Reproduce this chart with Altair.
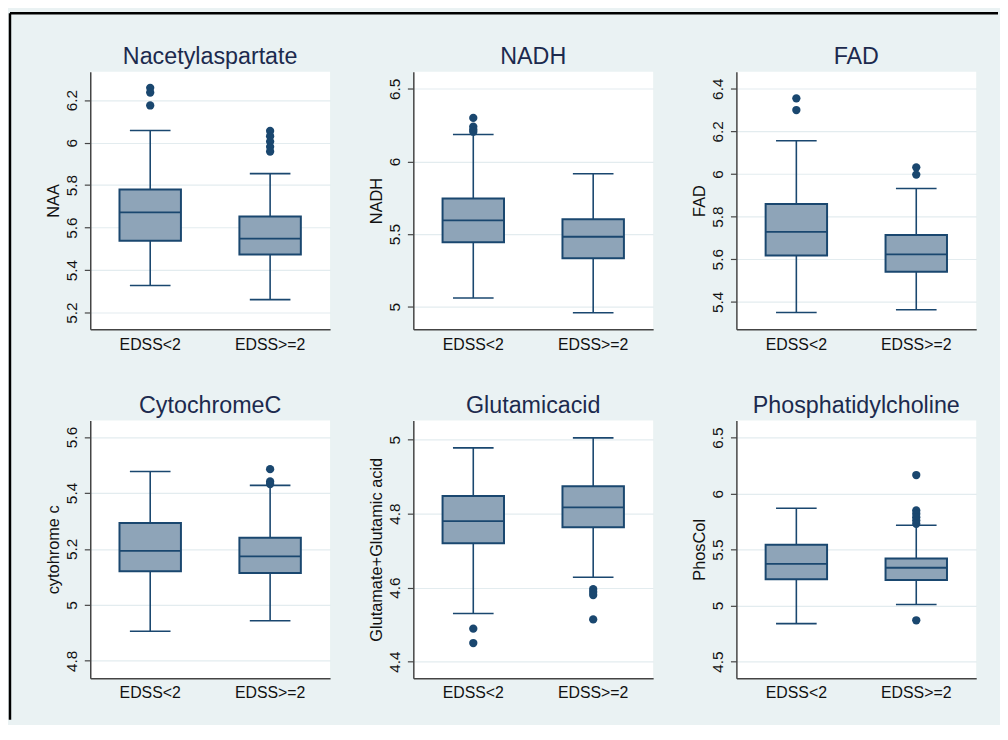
import altair as alt
import pandas as pd

groups = ["EDSS<2", "EDSS>=2"]

titles = ["Nacetylaspartate", "NADH", "FAD", "CytochromeC", "Glutamicacid", "Phosphatidylcholine"]
ytitles = ["NAA", "NADH", "FAD", "cytohrome c", "Glutamate+Glutamic acid", "PhosCol"]

# per panel: [EDSS<2, EDSS>=2]
lower_whisker = [[5.327, 5.261], [5.061, 4.959], [5.350, 5.363], [4.906, 4.943], [4.530, 4.628], [4.839, 5.010]]
q1 = [[5.538, 5.473], [5.445, 5.334], [5.617, 5.541], [5.120, 5.114], [4.720, 4.763], [5.235, 5.229]]
median = [[5.672, 5.548], [5.595, 5.482], [5.728, 5.623], [5.193, 5.173], [4.780, 4.817], [5.373, 5.338]]
q3 = [[5.779, 5.652], [5.745, 5.602], [5.859, 5.714], [5.293, 5.240], [4.848, 4.874], [5.544, 5.420]]
upper_whisker = [[6.057, 5.854], [6.186, 5.916], [6.156, 5.932], [5.477, 5.427], [4.978, 5.005], [5.869, 5.718]]

outliers_lt2 = [[6.258, 6.236, 6.175], [6.300, 6.240, 6.220, 6.205], [6.355, 6.300], [], [4.489, 4.450], []]
outliers_ge2 = [[6.055, 6.030, 6.005, 5.980, 5.958], [], [6.031, 5.997], [5.485, 5.441, 5.432],
                [4.596, 4.588, 4.580, 4.514], [6.166, 5.850, 5.820, 5.790, 5.760, 5.730, 4.869]]

y_domains = [[5.121, 6.334], [4.845, 6.618], [5.271, 6.480], [4.738, 5.659], [4.355, 5.052], [4.352, 6.653]]
y_ticks = [[5.2, 5.4, 5.6, 5.8, 6.0, 6.2], [5.0, 5.5, 6.0, 6.5], [5.4, 5.6, 5.8, 6.0, 6.2, 6.4],
           [4.8, 5.0, 5.2, 5.4, 5.6], [4.4, 4.6, 4.8, 5.0], [4.5, 5.0, 5.5, 6.0, 6.5]]

FONT = "Liberation Sans"
NAVY = "#1A476F"
BOXFILL = "#8EA4B8"
TITLE_COLOR = "#1C2A4E"
BG = "#EAF2F3"
W, H = 242, 260


def panel(i):
    box_df = pd.DataFrame({
        "group": groups,
        "lo": lower_whisker[i],
        "q1": q1[i],
        "med": median[i],
        "q3": q3[i],
        "hi": upper_whisker[i],
    })
    og = [groups[0]] * len(outliers_lt2[i]) + [groups[1]] * len(outliers_ge2[i])
    ov = list(outliers_lt2[i]) + list(outliers_ge2[i])
    out_df = pd.DataFrame({"group": og, "value": ov})

    xenc = alt.X("group:N", sort=groups,
                 scale=alt.Scale(domain=groups, paddingInner=0, paddingOuter=0),
                 axis=alt.Axis(title=None, labelAngle=0, ticks=False, grid=False,
                               labelFontSize=16, labelPadding=7, labelBaseline="top"))
    yscale = alt.Scale(domain=y_domains[i], nice=False, zero=False)
    yaxis = alt.Axis(title=ytitles[i], values=y_ticks[i], format="~g", grid=True,
                     labelAngle=270, labelAlign="center", labelBaseline="alphabetic",
                     labelFontSize=15.5, labelPadding=8, tickSize=6,
                     titleFontSize=16.5, titlePadding=3)

    base = alt.Chart(box_df).encode(x=xenc)
    whisk = base.mark_rule(color=NAVY, strokeWidth=1.6).encode(
        y=alt.Y("lo:Q", scale=yscale, axis=yaxis), y2="hi:Q")
    box = base.mark_bar(width=62, fill=BOXFILL, stroke=NAVY, strokeWidth=2).encode(
        y=alt.Y("q1:Q", scale=yscale, axis=yaxis), y2="q3:Q")
    med = base.mark_tick(size=62, thickness=1.8, color=NAVY, opacity=1).encode(
        y=alt.Y("med:Q", scale=yscale, axis=yaxis))
    cap_lo = base.mark_tick(size=41, thickness=1.6, color=NAVY, opacity=1).encode(
        y=alt.Y("lo:Q", scale=yscale, axis=yaxis))
    cap_hi = base.mark_tick(size=41, thickness=1.6, color=NAVY, opacity=1).encode(
        y=alt.Y("hi:Q", scale=yscale, axis=yaxis))
    layers = [whisk, box, med, cap_lo, cap_hi]
    if len(out_df):
        pts = alt.Chart(out_df).mark_circle(size=70, color=NAVY, opacity=1).encode(
            x=xenc, y=alt.Y("value:Q", scale=yscale, axis=yaxis))
        layers.append(pts)
    ttl = alt.Chart(pd.DataFrame({"t": [titles[i]]})).mark_text(
        font=FONT, fontSize=23.5, color=TITLE_COLOR, align="center", baseline="alphabetic"
    ).encode(x=alt.value(W / 2), y=alt.value(-8), text="t:N")
    layers.append(ttl)
    if i == 0:
        one = pd.DataFrame({"k": [0]})
        top_line = alt.Chart(one).mark_rule(color="black", strokeWidth=2.5).encode(
            x=alt.value(-81), x2=alt.value(916), y=alt.value(-59))
        left_line = alt.Chart(one).mark_rule(color="black", strokeWidth=2.5).encode(
            x=alt.value(-81), y=alt.value(-59), y2=alt.value(654))
        layers += [top_line, left_line]
    return alt.layer(*layers).properties(width=W, height=H)


chart = alt.concat(*[panel(i) for i in range(6)], columns=3,
                   spacing={"row": 92, "column": 84}, bounds="flush").properties(
    padding={"left": 0, "top": 0, "right": 0, "bottom": 0}
).configure(background=BG).configure_view(
    stroke=None, fill="white"
).configure_axis(
    domainColor="#444444", domainWidth=1.5, tickColor="#444444", tickWidth=1.2,
    gridColor="#E3ECEF", gridWidth=1.2, labelFont=FONT, titleFont=FONT,
    labelColor="#111111", titleColor="#111111", titleFontWeight="normal"
)

chart.save("out.html", embed_options={"renderer": "svg", "actions": False})
